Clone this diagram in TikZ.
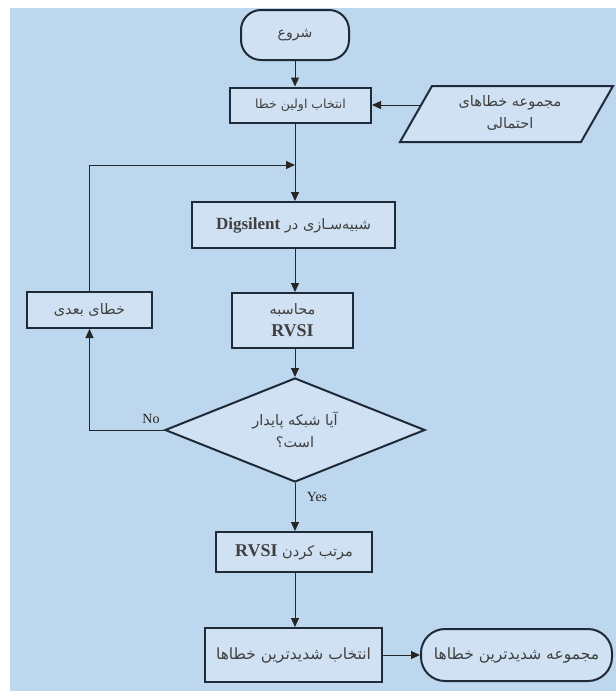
\documentclass[tikz,border=0pt]{standalone}
\usepackage{fontspec}
\newfontfamily\fa[Script=Arabic]{DejaVu Sans}
\newfontfamily\lat{Liberation Serif}
\TeXXeTstate=1
\usetikzlibrary{shapes.geometric,arrows.meta,calc}
\definecolor{bg}{HTML}{BDD7EE}
\definecolor{boxfill}{HTML}{CFE1F2}
\definecolor{edgec}{HTML}{1E2A38}
\newcommand{\latb}[2]{{\lat\bfseries\fontsize{#1}{#1}\selectfont\beginL #2\endL}}
\begin{document}
\begin{tikzpicture}[x=1pt,y=-1pt,
  fatext/.style={font=\fa\fontsize{14.5}{22}\selectfont, text=black!75},
  box/.style={draw=edgec, line width=2pt, fill=boxfill, inner sep=2pt, align=center, fatext},
  term/.style={box, rounded corners=20pt},
  conn/.style={draw=black!85, line width=1pt},
  arr/.style={conn, -{Triangle[length=9pt,width=8pt]}},
  lbl/.style={font=\lat\fontsize{14}{16}\selectfont, inner sep=1pt, text=black!85}]
\fill[white] (0,0) rectangle (616,691);
\fill[bg] (10,8) rectangle (616,691);
\useasboundingbox (0,0) rectangle (616,691);

\node[term, minimum width=108pt, minimum height=50pt, font=\fa\fontsize{14}{20}\selectfont] (start) at (295,35) {\beginR شروع\endR};
\node[box, minimum width=141pt, minimum height=35pt, font=\fa\fontsize{12.5}{20}\selectfont] (b1) at (300.5,105) {\beginR انتخاب اولین خطا\endR};
\filldraw[draw=edgec, line width=2pt, fill=boxfill] (400,142) -- (432,86) -- (613,86) -- (581,142) -- cycle;
\node[align=center, fatext] (par) at (510,113) {\beginR مجموعه خطاهای\endR\\\beginR احتمالی\endR};
\node[box, minimum width=203pt, minimum height=46pt] (b2) at (293.5,225) {\beginR شبیه‌سـازی در \latb{17}{Digsilent}\endR};
\node[box, minimum width=121pt, minimum height=55pt] (b3) at (292.5,320.5) {\beginR محاسبه\endR\\\latb{18}{RVSI}};
\node[diamond, draw=edgec, line width=2pt, fill=boxfill, inner sep=0pt, aspect=2.5, minimum width=260pt, minimum height=104pt, align=center, fatext] (dia) at (295,430) {\beginR آیا شبکه پایدار\endR\\\beginR است؟\endR};
\node[box, minimum width=125pt, minimum height=36pt] (b4) at (89.5,310) {\beginR خطای بعدی\endR};
\node[box, minimum width=156pt, minimum height=40pt] (b5) at (294,552) {\beginR مرتب کردن \latb{18}{RVSI}\endR};
\node[box, minimum width=177pt, minimum height=54pt, font=\fa\fontsize{15.5}{22}\selectfont] (b6) at (293.5,655) {\beginR انتخاب شدیدترین خطاها\endR};
\node[term, minimum width=191pt, minimum height=52pt, rounded corners=24pt, font=\fa\fontsize{15.5}{22}\selectfont] (end) at (516.5,655) {\beginR مجموعه شدیدترین خطاها\endR};

\node[lbl] (no) at (151,419) {No};
\node[lbl] (yes) at (317,497) {Yes};

\coordinate (join) at (295,165);
\coordinate (pl) at (420.6,105);
\draw[arr] (start.south) -- (b1.north -| start.south);
\draw[arr] (b1.south -| join) -- (b2.north -| join);
\draw[arr] (b2.south -| join) -- (b3.north -| join);
\draw[arr] (b3.south -| join) -- (dia.north);
\draw[arr] (dia.south) -- (b5.north -| dia.south);
\draw[arr] (b5.south -| join) -- (b6.north -| join);
\draw[arr] (b6.east) -- (end.west);
\draw[arr] (dia.west) -| (b4.south);
\draw[arr] (b4.north) |- (join);
\draw[arr] (pl) -- (pl -| b1.east);
\end{tikzpicture}
\end{document}
